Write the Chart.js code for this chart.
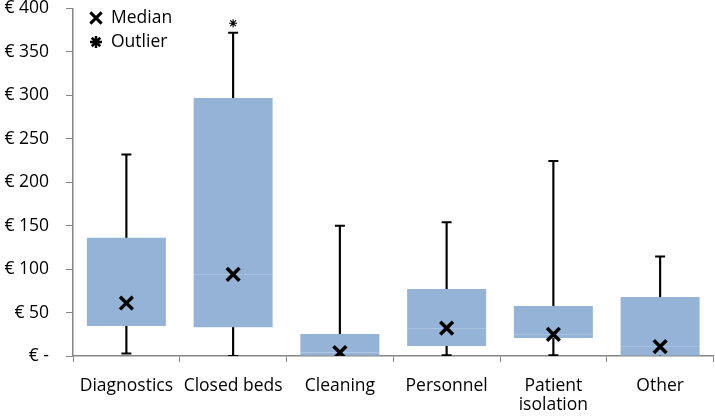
<!DOCTYPE html>
<html>
<head>
<meta charset="utf-8">
<script src="https://cdn.jsdelivr.net/npm/chart.js@4/dist/chart.umd.min.js"></script>
<style>
  body { margin: 0; background: #fff; overflow: hidden; }
  #wrap { width: 726px; height: 437px; margin-top: -19px; }
</style>
</head>
<body>
<div id="wrap"><canvas id="myChart"></canvas></div>
<script>
const categories = ["Diagnostics", "Closed beds", "Cleaning", "Personnel", ["Patient", "isolation"], "Other"];
const minValues = [3, 0, 0, 1, 1, 0];
const q1Values = [34.5, 33, 0, 11.5, 20.7, 0];
const medianValues = [61, 94, 4, 32, 25, 10.7];
const q3Values = [136, 297, 25.3, 77, 57.5, 68];
const maxValues = [232, 372, 150, 154, 224.5, 114.6];
const outlierValues = [null, 383, null, null, null, null];
const yTicks = [0, 50, 100, 150, 200, 250, 300, 350, 400];

const boxColor = '#95B3D7';
const fontFamily = "'Open Sans', sans-serif";
const fontSize = 17.5;

function pairs(a, b) {
    return a.map((v, i) => [v, b[i]]);
}

// caps only where a lower whisker exists
const lowCaps = minValues.map((v, i) => (q1Values[i] > v ? v : null));

const legendPlugin = {
    id: 'boxLegend',
    afterDraw(chart) {
        const ctx = chart.ctx;
        ctx.save();
        ctx.translate(0, 19);
        ctx.strokeStyle = '#000';
        ctx.lineWidth = 3;
        Chart.helpers.drawPoint(ctx, {pointStyle: 'crossRot', radius: 8, borderWidth: 3}, 96, 18);
        ctx.lineWidth = 2.5;
        Chart.helpers.drawPoint(ctx, {pointStyle: 'star', radius: 6, borderWidth: 2.5}, 96, 42);
        ctx.fillStyle = '#000';
        ctx.font = fontSize + "px " + fontFamily;
        ctx.textBaseline = 'middle';
        ctx.fillText('Median', 111, 18);
        ctx.fillText('Outlier', 111, 42);
        ctx.restore();
    }
};

function drawChart() {
    const ctx = document.getElementById("myChart").getContext("2d");
    new Chart(ctx, {
        type: 'bar',
        data: {
            labels: categories,
            datasets: [
                {
                    label: 'Whisker',
                    data: pairs(minValues, maxValues),
                    backgroundColor: '#000',
                    barThickness: 1.5,
                    grouped: false,
                    order: 5
                },
                {
                    label: 'Lower box',
                    data: pairs(q1Values, medianValues),
                    backgroundColor: boxColor,
                    barPercentage: 0.74,
                    categoryPercentage: 1,
                    grouped: false,
                    order: 4
                },
                {
                    label: 'Upper box',
                    data: pairs(medianValues, q3Values),
                    backgroundColor: boxColor,
                    barPercentage: 0.74,
                    categoryPercentage: 1,
                    grouped: false,
                    order: 3
                },
                {
                    type: 'line',
                    label: 'Max',
                    data: maxValues,
                    showLine: false,
                    pointStyle: 'line',
                    pointRadius: 5,
                    borderColor: '#000',
                    pointBorderWidth: 2,
                    order: 2
                },
                {
                    type: 'line',
                    label: 'Min',
                    data: lowCaps,
                    showLine: false,
                    pointStyle: 'line',
                    pointRadius: 5,
                    borderColor: '#000',
                    pointBorderWidth: 2,
                    order: 2
                },
                {
                    type: 'line',
                    label: 'Median',
                    data: medianValues,
                    showLine: false,
                    pointStyle: 'crossRot',
                    pointRadius: 9,
                    borderColor: '#000',
                    pointBorderWidth: 3.5,
                    order: 1
                },
                {
                    type: 'line',
                    label: 'Outlier',
                    data: outlierValues,
                    showLine: false,
                    pointStyle: 'star',
                    pointRadius: 4,
                    borderColor: '#000',
                    pointBorderWidth: 1.2,
                    order: 1
                }
            ]
        },
        options: {
            responsive: true,
            maintainAspectRatio: false,
            animation: false,
            layout: {padding: 0},
            plugins: {
                legend: {display: false},
                tooltip: {enabled: false}
            },
            scales: {
                x: {
                    grid: {drawOnChartArea: false, color: '#868686', tickLength: 6, offset: true},
                    border: {color: '#868686', width: 1.5},
                    ticks: {color: '#000', font: {family: fontFamily, size: fontSize, lineHeight: 1.1}, maxRotation: 0, autoSkip: false, padding: 14},
                    afterFit(scale) { scale.height = 62; }
                },
                y: {
                    min: 0,
                    max: 400,
                    afterBuildTicks(scale) { scale.ticks = yTicks.map(v => ({value: v})); },
                    grid: {drawOnChartArea: false, color: '#868686', tickLength: 7},
                    border: {color: '#868686', width: 1.5},
                    ticks: {
                        color: '#000',
                        font: {family: fontFamily, size: fontSize},
                        padding: 17,
                        callback: v => (v === 0 ? '€ -' : '€ ' + v)
                    },
                    afterFit(scale) { scale.width = 73; }
                }
            }
        },
        plugins: [legendPlugin]
    });
}

drawChart();
</script>
</body>
</html>
